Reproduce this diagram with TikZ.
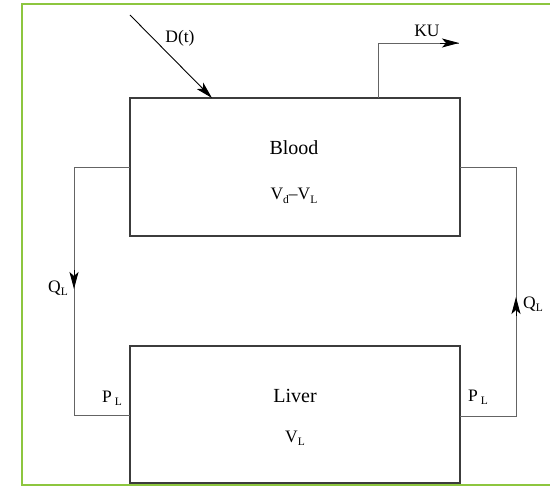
\documentclass[tikz,border=0pt]{standalone}
\usepackage{fontspec}
\setmainfont{Liberation Serif}
\usetikzlibrary{arrows.meta}
\definecolor{frame}{RGB}{141,198,63}
\definecolor{boxline}{RGB}{60,60,60}
\definecolor{wire}{RGB}{100,100,100}
\tikzset{
  compartment/.style={draw=boxline, line width=1.6pt, minimum width=330pt, inner sep=0pt, fill=none},
  wireline/.style={draw=wire, line width=0.9pt},
  tip/.style={-{Stealth[length=17pt,width=9pt,inset=4pt]}, draw=black, line width=0.9pt},
  big/.style={font=\fontsize{20}{24}\selectfont, anchor=base, inner sep=0pt},
  lbl/.style={font=\fontsize{17.5}{21}\selectfont, anchor=base, inner sep=0pt},
}
\newcommand{\sbs}[1]{\raisebox{-0.45ex}{\fontsize{11.5}{13}\selectfont #1}}
\begin{document}
\begin{tikzpicture}[x=1pt,y=-1pt]
\useasboundingbox (0,0) rectangle (550,487);
% frame (top, left, bottom)
\draw[frame, line width=2pt] (550,4) -- (22,4) -- (22,485) -- (550,485);
% compartments
\node[compartment, minimum height=138pt] (blood) at (295,167) {};
\node[compartment, minimum height=137pt] (liver) at (295,414.5) {};
% texts in boxes
\node[big] (bloodname) at (294,154) {Blood};
\node[lbl] (bloodvol) at (294,200) {V\sbs{d}--V\sbs{L}};
\node[big] (livername) at (295,402) {Liver};
\node[lbl] (livervol) at (295,442) {V\sbs{L}};
% dose input
\coordinate (dstart) at (130,15);
\coordinate (dend) at (212,98);
\draw[tip] (dstart) -- (dend);
\node[lbl] (dlabel) at (180,43) {D(t)};
% KU output
\coordinate (kubase) at (378,98);
\coordinate (kucorner) at (378,43);
\coordinate (kuend) at (459,43);
\draw[wireline] (kubase) -- (kucorner) -- (kuend);
\coordinate (kuarrow) at (440,43);
\draw[tip] (kuarrow) -- (kuend);
\node[lbl] (kulabel) at (427,37) {KU};
% left loop: blood -> liver
\coordinate (lb) at (130,167);
\coordinate (lt) at (74,167);
\coordinate (lbot) at (74,415);
\coordinate (ll) at (130,415);
\draw[wireline] (lb) -- (lt) -- (lbot) -- (ll);
\coordinate (la1) at (74,270);
\coordinate (la2) at (74,289);
\draw[tip] (la1) -- (la2);
\node[lbl] (qleft) at (58,292) {Q\sbs{L}};
\node[lbl] (pleft) at (112,402) {P\,\sbs{L}};
% right loop: liver -> blood
\coordinate (rl) at (460,416);
\coordinate (rbot) at (516,416);
\coordinate (rt) at (516,167);
\coordinate (rb) at (460,167);
\draw[wireline] (rl) -- (rbot) -- (rt) -- (rb);
\coordinate (ra1) at (516,316);
\coordinate (ra2) at (516,297);
\draw[tip] (ra1) -- (ra2);
\node[lbl] (qright) at (533,308) {Q\sbs{L}};
\node[lbl] (pright) at (478,401) {P\,\sbs{L}};
\end{tikzpicture}
\end{document}
